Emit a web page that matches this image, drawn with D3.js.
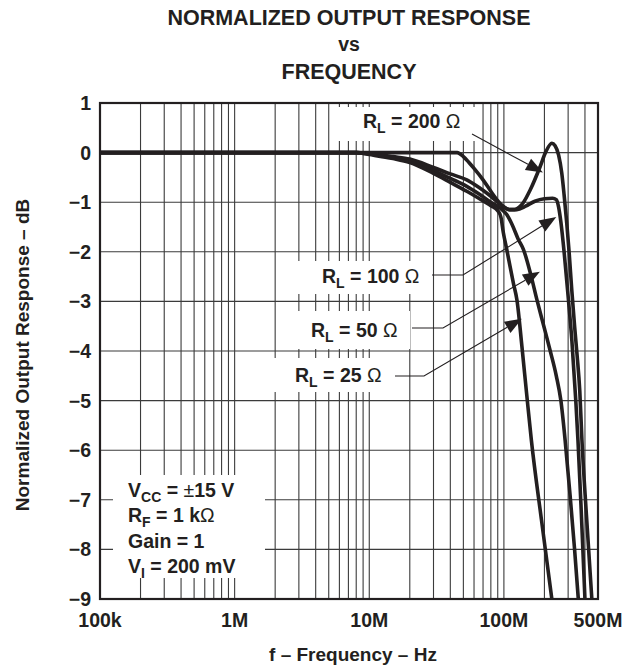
<!DOCTYPE html>
<html><head><meta charset="utf-8">
<script src="https://cdn.jsdelivr.net/npm/d3@7/dist/d3.min.js"></script>
<style>body{margin:0;background:#fff}svg{display:block}</style>
</head><body><svg id="chart" width="637" height="666"></svg>
<script>
// ---------- data ----------
const titleLines = ["NORMALIZED OUTPUT RESPONSE", "vs", "FREQUENCY"];
const xAxisTitle = "f – Frequency – Hz";
const yAxisTitle = "Normalized Output Response – dB";
const freqTicks = [1e5, 1e6, 1e7, 1e8, 5e8];
const freqTickLabels = ["100k", "1M", "10M", "100M", "500M"];
const dbTicks = [1, 0, -1, -2, -3, -4, -5, -6, -7, -8, -9];
const dbTickLabels = ["1", "0", "−1", "−2", "−3", "−4", "−5", "−6", "−7", "−8", "−9"];

const freq200 = [1e5, 1e6, 1e7, 3e7, 4.5e7, 5e7, 5.5e7, 6e7, 7e7, 8e7, 9e7, 1e8, 1.1e8, 1.2e8, 1.3e8, 1.4e8, 1.57e8, 1.86e8, 2.05e8, 2.27e8, 2.4e8, 2.55e8, 2.69e8, 2.8e8, 2.93e8, 3.05e8, 3.19e8, 3.35e8, 3.5e8, 3.66e8, 3.8e8, 4.1e8, 4.5e8];
const db200   = [0, 0, 0, 0, 0, -0.08, -0.2, -0.32, -0.55, -0.78, -0.97, -1.1, -1.15, -1.15, -1.1, -1.0, -0.75, -0.28, 0.02, 0.19, 0.14, -0.05, -0.41, -0.85, -1.42, -2.0, -2.76, -3.5, -4.1, -4.8, -5.8, -7.3, -9];

const freq100 = [1e5, 1e6, 8e6, 1e7, 1.5e7, 2e7, 3e7, 4e7, 5.3e7, 6.5e7, 8e7, 9.5e7, 1.1e8, 1.25e8, 1.45e8, 1.7e8, 2e8, 2.3e8, 2.45e8, 2.55e8, 2.65e8, 2.8e8, 3e8, 3.2e8, 3.42e8, 3.55e8, 3.75e8, 4e8];
const db100   = [0, 0, 0, -0.02, -0.08, -0.13, -0.3, -0.43, -0.55, -0.7, -0.88, -1.05, -1.15, -1.15, -1.08, -0.98, -0.93, -0.92, -0.95, -1.1, -1.4, -2.0, -2.9, -3.8, -5.0, -5.8, -7.2, -9];

const freq50 = [1e5, 1e6, 8e6, 1e7, 1.5e7, 2e7, 3e7, 4e7, 5.3e7, 6.5e7, 8e7, 9.5e7, 1.05e8, 1.15e8, 1.28e8, 1.4e8, 1.58e8, 1.76e8, 1.98e8, 2.2e8, 2.45e8, 2.65e8, 2.85e8, 3.1e8, 3.35e8, 3.57e8];
const db50   = [0, 0, 0, -0.03, -0.1, -0.16, -0.36, -0.52, -0.68, -0.83, -1.0, -1.13, -1.25, -1.45, -1.75, -1.96, -2.45, -2.97, -3.5, -3.98, -4.5, -5.0, -5.8, -6.9, -8.0, -9];

const freq25 = [1e5, 1e6, 8e6, 1e7, 1.5e7, 2e7, 3e7, 4e7, 5.3e7, 6.5e7, 8e7, 9e7, 9.5e7, 9.9e7, 1.05e8, 1.11e8, 1.18e8, 1.25e8, 1.36e8, 1.48e8, 1.6e8, 1.9e8, 2.27e8];
const db25   = [0, 0, 0, -0.04, -0.12, -0.2, -0.42, -0.6, -0.78, -0.92, -1.07, -1.17, -1.3, -1.61, -1.95, -2.29, -2.65, -2.97, -3.9, -4.9, -5.8, -7.4, -9];

const seriesNames = ["RL = 200 Ω", "RL = 100 Ω", "RL = 50 Ω", "RL = 25 Ω"];
const seriesFreqs = [freq200, freq100, freq50, freq25];
const seriesDbs = [db200, db100, db50, db25];

// label annotation values and arrow tips (data coords)
const labelValues = ["200", "100", "50", "25"];
const arrowTipFreq = [1.95e8, 2.45e8, 1.85e8, 1.36e8];
const arrowTipDb   = [-0.4, -1.3, -2.4, -3.35];

const conditionLines = [["V", "CC", " = ", "±", "15 V"], ["R", "F", " = 1 k", "Ω", ""], ["Gain = 1", "", "", "", ""], ["V", "I", " = 200 mV", "", ""]];

// ---------- layout ----------
const W = 637, H = 666;
const L = 100, R = 598, T = 103, B = 599;
const ink = "#231f20";
const font = "'Liberation Sans', Arial, Helvetica, sans-serif";

const svg = d3.select("#chart");
const x = d3.scaleLog().domain([1e5, 5e8]).range([L, R]);
const y = d3.scaleLinear().domain([1, -9]).range([T, B]);

// title
svg.append("g").selectAll("text").data(titleLines).join("text")
  .attr("x", (L + R) / 2).attr("y", (d, i) => [25, 51, 79][i])
  .attr("text-anchor", "middle").attr("font-family", font).attr("font-weight", "bold")
  .attr("font-size", (d, i) => i === 1 ? 19.5 : 21.5).attr("fill", ink).text(d => d);

// vertical grid
const minor = [];
[1e5, 1e6, 1e7, 1e8].forEach(d => { for (let k = 1; k <= 9; k++) { const f = k * d; if (f > 1e5 && f < 5e8) minor.push(f); } });
const gGridV = svg.append("g");
gGridV.selectAll("line").data(minor).join("line")
  .attr("x1", d => x(d)).attr("x2", d => x(d)).attr("y1", T).attr("y2", B)
  .attr("stroke", "#3b3b3b").attr("stroke-width", 1.1);

// label background boxes (cover vertical grid)
const labelBoxes = [[333, 107, 145, 34], [290, 261, 139, 33], [280, 311, 130, 38], [262, 358, 130, 34]];
svg.append("g").selectAll("rect").data(labelBoxes).join("rect")
  .attr("x", d => d[0]).attr("y", d => d[1]).attr("width", d => d[2]).attr("height", d => d[3]).attr("fill", "#fff");

// horizontal grid
svg.append("g").selectAll("line").data(dbTicks.slice(1, -1)).join("line")
  .attr("x1", L).attr("x2", R).attr("y1", d => y(d)).attr("y2", d => y(d))
  .attr("stroke", "#3b3b3b").attr("stroke-width", 1.1);

// conditions box
svg.append("rect").attr("x", 113).attr("y", 475).attr("width", 152).attr("height", 103).attr("fill", "#fff");

// curves
svg.append("clipPath").attr("id", "clip").append("rect").attr("x", L).attr("y", T).attr("width", R - L).attr("height", B - T);
const line = d3.line().x(d => x(d[0])).y(d => y(d[1])).curve(d3.curveMonotoneX);
svg.append("g").attr("clip-path", "url(#clip)").selectAll("path").data(seriesNames).join("path")
  .attr("d", (n, i) => line(seriesFreqs[i].map((f, j) => [f, seriesDbs[i][j]])))
  .attr("fill", "none").attr("stroke", ink).attr("stroke-width", 3.6).attr("stroke-linejoin", "round").attr("stroke-linecap", "round");

// border
svg.append("rect").attr("x", L).attr("y", T).attr("width", R - L).attr("height", B - T)
  .attr("fill", "none").attr("stroke", ink).attr("stroke-width", 2.2);

// axes tick labels
svg.append("g").selectAll("text").data(freqTicks).join("text")
  .attr("x", d => x(d)).attr("y", 627).attr("text-anchor", "middle")
  .attr("font-family", font).attr("font-weight", "bold").attr("font-size", 19.5).attr("fill", ink)
  .text((d, i) => freqTickLabels[i]);
svg.append("g").selectAll("text").data(dbTicks).join("text")
  .attr("x", 91).attr("y", d => y(d) + 7).attr("text-anchor", "end")
  .attr("font-family", font).attr("font-weight", "bold").attr("font-size", 19.5).attr("fill", ink)
  .text((d, i) => dbTickLabels[i]);

// axis titles
svg.append("text").attr("x", (L + R) / 2 + 4).attr("y", 661).attr("text-anchor", "middle")
  .attr("font-family", font).attr("font-weight", "bold").attr("font-size", 19).attr("fill", ink).text(xAxisTitle);
svg.append("text").attr("transform", `translate(29,${(T + B) / 2 + 4}) rotate(-90)`).attr("text-anchor", "middle")
  .attr("font-family", font).attr("font-weight", "bold").attr("font-size", 19).attr("fill", ink).text(yAxisTitle);

// series labels
const labelPos = [[363, 128], [322, 283], [311, 337], [295, 382]];
const leaderStart = [[472, 134], [432, 275], [412, 328], [395, 376]];
const leaderElbow = [null, [463, 275], [443, 328], [424, 376]];
const gLab = svg.append("g").attr("font-family", font).attr("font-weight", "bold").attr("font-size", 19.5).attr("fill", ink);
labelValues.forEach((v, i) => {
  const t = gLab.append("text").attr("x", labelPos[i][0]).attr("y", labelPos[i][1]);
  t.append("tspan").text("R");
  t.append("tspan").attr("font-size", 14).attr("dy", 5).text("L");
  t.append("tspan").attr("dy", -5).text(" = " + v + " ");
  t.append("tspan").attr("font-weight", "normal").text("Ω");
  const pts = [leaderStart[i]];
  if (leaderElbow[i]) pts.push(leaderElbow[i]);
  const tip = [x(arrowTipFreq[i]), y(arrowTipDb[i])];
  const prev = pts[pts.length - 1];
  const dx = tip[0] - prev[0], dy = tip[1] - prev[1], len = Math.hypot(dx, dy);
  const ux = dx / len, uy = dy / len;
  const aL = 17, aW = 6.5;
  const base = [tip[0] - ux * aL, tip[1] - uy * aL];
  pts.push(base);
  svg.append("path").attr("d", d3.line()(pts)).attr("fill", "none").attr("stroke", ink).attr("stroke-width", 1.1);
  svg.append("path").attr("d", d3.line()([tip, [base[0] - uy * aW, base[1] + ux * aW], [base[0] + uy * aW, base[1] - ux * aW]]) + "Z").attr("fill", ink);
});

// conditions text
const gCond = svg.append("g").attr("font-family", font).attr("font-weight", "bold").attr("font-size", 19.5).attr("fill", ink);
conditionLines.forEach((parts, i) => {
  const t = gCond.append("text").attr("x", 128).attr("y", [497, 522, 548, 573][i]);
  t.append("tspan").text(parts[0]);
  if (parts[1]) {
    t.append("tspan").attr("font-size", 14).attr("dy", 5).text(parts[1]);
    t.append("tspan").attr("dy", -5).text(parts[2]);
  }
  if (parts[3]) t.append("tspan").attr("font-weight", "normal").text(parts[3]);
  if (parts[4]) t.append("tspan").text(parts[4]);
});
</script></body></html>
